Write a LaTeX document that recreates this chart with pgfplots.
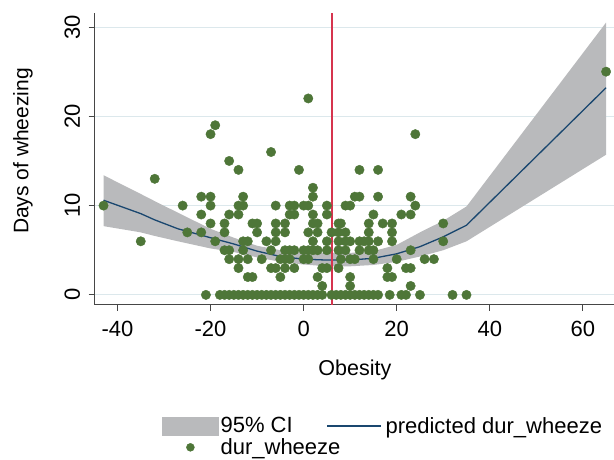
\documentclass[border=0pt]{standalone}
\usepackage{fontspec}
\setmainfont{Liberation Sans}
\usepackage{pgfplots}
\usepackage{pgfplotstable}
\pgfplotsset{compat=1.18}
\usepgfplotslibrary{fillbetween}

\definecolor{cigray}{RGB}{185,186,188}
\definecolor{fitblue}{RGB}{26,71,111}
\definecolor{dotgreen}{RGB}{78,118,56}
\definecolor{vred}{RGB}{214,52,78}
\definecolor{gridc}{RGB}{220,232,236}
\definecolor{axisc}{RGB}{70,70,70}

\pgfplotstableread{
x lo hi fit
-43 7.7 13.4 10.6
-35 7.0 11.3 9.1
-32 6.6 10.5 8.4
-27 6.0 9.2 7.4
-20 5.2 7.4 6.4
-15 4.8 6.4 5.7
-10 4.2 5.5 4.9
-5 3.7 5.0 4.3
0 3.4 4.8 4.0
5 3.2 4.7 3.9
10 3.2 4.7 3.9
15 3.35 4.9 4.1
20 3.7 5.6 4.6
25 4.3 7.0 5.4
30 5.0 8.3 6.5
35 6.0 9.9 7.8
65 15.7 30.5 23.2
}\fitdata

\pgfplotstableread{
x y
-43 10
-35 6
-32 13
-26 10
-25 7
-22 11
-20 11
-20 10
-22 9
-22 7
-20 8
-19 6
-20 18
-19 19
-21 0
-17 8
-17 7
-17 5
-16 15
-16 9
-16 5
-16 4
-14 14
-14 10
-13 11
-13 10
-14 9
-13 6
-12 6
-13 5
-14 4
-14 3
-12 2
-11 2
-12 4
-11 8
-10 8
-10 7
-9 4
-8 6
-7 16
-7 5
-7 3
-6 10
-6 8
-6 7
-6 6
-6 3
-5 2
-5 4
-4 5
-4 4
-4 3
-4 7
-4 8
-3 10
-3 9
-3 5
-3 4
-2 10
-2 9
-2 5
-2 3
-1 14
0 10
1 10
1 22
2 12
2 11
2 9
1 7
2 8
3 8
3 7
2 6
1 5
2 5
3 5
0 5
1 4
0 4
3 2
4 3
5 3
5 5
5 6
5 9
5 10
4 1
6 7
7.5 8
7.5 7
7.5 6
7.5 5
7.5 3
65 25
24 18
12 14
16 14
11 11
12 11
16 11
23 11
24 10
9 10
10 10
15 9
21 9
23 9
8 8
14 8
17 8
19 8
30 8
9 7
14 7
19 7
9 6
10 6
12 6
13 6
14 6
16 6
19 6
30 6
9 5
12 5
14 5
15 5
23 5
8 4
10 4
11 4
15 4
20 4
26 4
28 4
18 3
22 3
23 3
10 2
18 2
19 2
10 1
23 1
-18 0
-17 0
-16 0
-15 0
-14 0
-13 0
-12 0
-11 0
-10 0
-9 0
-8 0
-7 0
-6 0
-5 0
-4 0
-3 0
-2 0
-1 0
0 0
1 0
2 0
3 0
4 0
6 0
7 0
8 0
9 0
10 0
11 0
12 0
13 0
14 0
15 0
16 0
18.5 0
21 0
22 0
25 0
32 0
35 0
}\scatterdata

\begin{document}
\begin{tikzpicture}
\begin{axis}[
  at={(0pt,0pt)}, anchor=south west,
  scale only axis, width=519.3pt, height=291.7pt,
  xmin=-44.9, xmax=66.7, ymin=-1.1, ymax=31.57,
  axis x line*=bottom, axis y line*=left,
  axis line style={axisc, line width=0.8pt, -},
  xtick={-40,-20,0,20,40,60}, ytick={0,10,20,30},
  tick align=outside, major tick length=6pt,
  tick style={axisc, line width=0.8pt},
  ymajorgrids, grid style={gridc, line width=1pt},
  /pgf/number format/assume math mode=true,
  tick label style={font=\fontsize{22}{24}\selectfont},
  xticklabel shift=7pt,
  yticklabel shift=5pt,
  yticklabel style={rotate=90, anchor=south},
  xlabel={Obesity}, ylabel={Days of wheezing},
  every axis x label/.style={at={(axis description cs:0.501,-0.224)}, anchor=center, font=\fontsize{21.5}{24}\selectfont},
  every axis y label/.style={at={(axis description cs:-0.138,0.527)}, anchor=center, rotate=90, font=\fontsize{21}{24}\selectfont},
  legend columns=2,
  legend cell align=left,
  legend style={draw=none, fill=none, inner sep=0pt,
    font=\fontsize{22}{22}\selectfont,
    at={(axis description cs:0.1296,-0.378)}, anchor=north west,
    nodes={inner sep=2pt},
    /tikz/every even column/.append style={column sep=32pt}},
]
\addplot [draw=none, forget plot, name path=hi] table [x=x, y=hi] {\fitdata};
\addplot [draw=none, forget plot, name path=lo] table [x=x, y=lo] {\fitdata};
\addplot [fill=cigray, draw=none, forget plot] fill between [of=hi and lo];
\addplot [only marks, mark=*, mark size=4.7pt, dotgreen, forget plot] table [x=x, y=y] {\scatterdata};
\addplot [fitblue, line width=1.3pt, forget plot] table [x=x, y=fit] {\fitdata};
\addplot [vred, line width=1.3pt, forget plot] coordinates {(6.1,-1.1) (6.1,31.57)};

\addlegendimage{legend image code/.code={\fill[cigray] (0pt,-9pt) rectangle (56pt,9pt);}}
\addlegendentry{95\% CI}
\addlegendimage{legend image code/.code={\draw[fitblue, line width=1.3pt] (0pt,0pt) -- (54pt,0pt); \path (0pt,-9pt) (56pt,9pt);}}
\addlegendentry{predicted dur\_wheeze}
\addlegendimage{legend image code/.code={\fill[dotgreen] (28pt,0pt) circle (4pt); \path (0pt,-5pt) (56pt,5pt);}}
\addlegendentry{\rlap{dur\_wheeze}}
\end{axis}
\pgfresetboundingbox
\path[use as bounding box] (-94.7pt,-154.3pt) rectangle (519.3pt,304.7pt);
\end{tikzpicture}
\end{document}
